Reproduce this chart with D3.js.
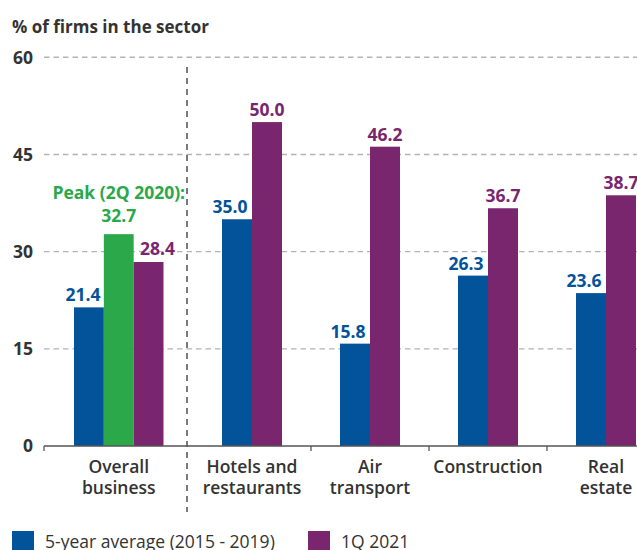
<!DOCTYPE html>
<html>
<head>
<meta charset="utf-8">
<script src="https://cdn.jsdelivr.net/npm/d3@7"></script>
<style>
  html, body { margin: 0; padding: 0; background: #fff; }
  svg { display: block; font-family: "Open Sans", "Noto Sans", sans-serif; }
</style>
</head>
<body>
<svg id="chart" width="637" height="550"></svg>
<script>
// Share of firms in each sector
const overallCategory = "Overall business";
const sectors = ["Hotels and restaurants", "Air transport", "Construction", "Real estate"];
const categories = [overallCategory, ...sectors];
const fiveYearAverage = [21.4, 35.0, 15.8, 26.3, 23.6];   // 2015 - 2019
const q1_2021 = [28.4, 50.0, 46.2, 36.7, 38.7];
const overallPeak = 32.7;                                   // 2Q 2020
const yTicks = [0, 15, 30, 45, 60];
const seriesNames = ["5-year average (2015 - 2019)", "1Q 2021"];

const colors = { avg: "#02539a", peak: "#2aa84a", q1: "#79266e" };
const textDark = "#333333";

const svg = d3.select("#chart");
const width = 637;

const y = d3.scaleLinear().domain([0, 60]).range([446, 57.3]);
const plotLeft = 44;

// Sector groups share one step; overall business sits in its own panel
const xSector = d3.scaleBand().domain(sectors).range([193, 665]);
const xPair = d3.scaleBand().domain(["avg", "q1"])
  .range([0, 60]);
const pairOffset = (xSector.bandwidth() - 60) / 2;
const xOverall = d3.scaleBand().domain(["avg", "peak", "q1"]).range([74, 163.5]);

const dividerX = 187;

// Title
svg.append("text")
  .attr("x", 12).attr("y", 33)
  .attr("font-size", 17).attr("font-weight", 700)
  .attr("fill", textDark)
  .text("% of firms in the sector");

// Grid lines and y tick labels
const grid = svg.append("g");
grid.selectAll("line")
  .data(yTicks.filter(t => t > 0))
  .join("line")
  .attr("x1", plotLeft).attr("x2", width)
  .attr("y1", d => y(d)).attr("y2", d => y(d))
  .attr("stroke", "#b3b3b3")
  .attr("stroke-width", 1.4)
  .attr("stroke-dasharray", "5.5,4");

svg.append("g").selectAll("text")
  .data(yTicks)
  .join("text")
  .attr("x", 33).attr("y", d => y(d))
  .attr("dy", "0.36em")
  .attr("text-anchor", "end")
  .attr("font-size", 17.5).attr("font-weight", 700)
  .attr("fill", textDark)
  .text(d => d);

// Divider between the overall figure and the sectors
svg.append("line")
  .attr("x1", dividerX).attr("x2", dividerX)
  .attr("y1", 67).attr("y2", 512)
  .attr("stroke", "#333")
  .attr("stroke-width", 1.3)
  .attr("stroke-dasharray", "6,5");

// Bars
const bars = svg.append("g");

const overallBars = [
  { key: "avg", value: fiveYearAverage[0] },
  { key: "peak", value: overallPeak },
  { key: "q1", value: q1_2021[0] }
];
bars.selectAll("rect.overall")
  .data(overallBars)
  .join("rect")
  .attr("class", "overall")
  .attr("x", d => xOverall(d.key))
  .attr("width", xOverall.bandwidth())
  .attr("y", d => y(d.value))
  .attr("height", d => y(0) - y(d.value))
  .attr("fill", d => colors[d.key]);

const sectorBars = [];
sectors.forEach((s, i) => {
  sectorBars.push({ sector: s, key: "avg", value: fiveYearAverage[i + 1] });
  sectorBars.push({ sector: s, key: "q1", value: q1_2021[i + 1] });
});
const barX = d => xSector(d.sector) + pairOffset + xPair(d.key);
bars.selectAll("rect.sector")
  .data(sectorBars)
  .join("rect")
  .attr("class", "sector")
  .attr("x", barX)
  .attr("width", xPair.bandwidth())
  .attr("y", d => y(d.value))
  .attr("height", d => y(0) - y(d.value))
  .attr("fill", d => colors[d.key]);

// Value labels
const labels = svg.append("g")
  .attr("font-size", 17.5).attr("font-weight", 700)
  .attr("text-anchor", "middle");

labels.selectAll("text.sector")
  .data(sectorBars)
  .join("text")
  .attr("class", "sector")
  .attr("x", d => barX(d) + xPair.bandwidth() / 2 + (d.key === "avg" ? -7 : 0))
  .attr("y", d => y(d.value) - 6)
  .attr("fill", d => colors[d.key])
  .text(d => d.value.toFixed(1));

const overallShift = { avg: -6, peak: 0, q1: 9 };
const overallGap = { avg: 6, peak: 12, q1: 7 };
labels.selectAll("text.overall")
  .data(overallBars)
  .join("text")
  .attr("class", "overall")
  .attr("x", d => xOverall(d.key) + xOverall.bandwidth() / 2 + overallShift[d.key])
  .attr("y", d => y(d.value) - overallGap[d.key])
  .attr("fill", d => colors[d.key])
  .text(d => d.value.toFixed(1));

labels.append("text")
  .attr("x", xOverall("peak") + xOverall.bandwidth() / 2)
  .attr("y", y(overallPeak) - 35)
  .attr("fill", colors.peak)
  .text("Peak (2Q 2020):");

// Baseline axis with group ticks
svg.append("line")
  .attr("x1", plotLeft).attr("x2", width)
  .attr("y1", y(0)).attr("y2", y(0))
  .attr("stroke", "#555")
  .attr("stroke-width", 1.5);

const tickXs = [plotLeft, ...sectors.slice(1).map(s => xSector(s))];
svg.append("g").selectAll("line")
  .data(tickXs)
  .join("line")
  .attr("x1", d => d).attr("x2", d => d)
  .attr("y1", y(0)).attr("y2", y(0) + 5)
  .attr("stroke", "#555")
  .attr("stroke-width", 1.3);

// Category labels, one text element per line
const labelLines = {
  "Overall business": ["Overall", "business"],
  "Hotels and restaurants": ["Hotels and", "restaurants"],
  "Air transport": ["Air", "transport"],
  "Construction": ["Construction"],
  "Real estate": ["Real", "estate"]
};
const categoryCenter = c => c === overallCategory
  ? xOverall("peak") + xOverall.bandwidth() / 2
  : xSector(c) + xSector.bandwidth() / 2;

const catLines = [];
categories.forEach(c => {
  labelLines[c].forEach((t, i) => catLines.push({ t, x: categoryCenter(c), line: i }));
});
svg.append("g")
  .attr("font-size", 17.5).attr("font-weight", 600)
  .attr("fill", textDark)
  .attr("text-anchor", "middle")
  .selectAll("text")
  .data(catLines)
  .join("text")
  .attr("x", d => d.x)
  .attr("y", d => 473 + d.line * 20.5)
  .text(d => d.t);

// Legend
const legend = svg.append("g");
const legendItems = [
  { name: seriesNames[0], color: colors.avg, x: 12 },
  { name: seriesNames[1], color: colors.q1, x: 308 }
];
const li = legend.selectAll("g")
  .data(legendItems)
  .join("g")
  .attr("transform", d => `translate(${d.x},531)`);
li.append("rect")
  .attr("width", 22).attr("height", 22)
  .attr("fill", d => d.color);
li.append("text")
  .attr("x", 33).attr("y", 17)
  .attr("font-size", 17.5)
  .attr("fill", textDark)
  .text(d => d.name);
</script>
</body>
</html>
